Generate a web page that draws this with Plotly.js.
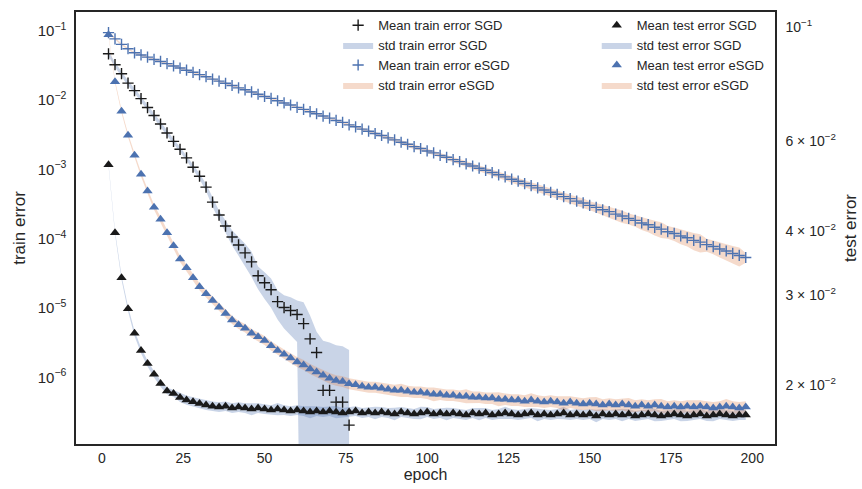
<!DOCTYPE html>
<html>
<head>
<meta charset="utf-8">
<script src="https://cdn.plot.ly/plotly-3.0.1.min.js"></script>
<style>html,body{margin:0;padding:0;background:#fff;}#chart{width:862px;height:489px;}</style>
</head>
<body>
<div id="chart"></div>
<script>
const epochs = [2,4,6,8,10,12,14,16,18,20,22,24,26,28,30,32,34,36,38,40,42,44,46,48,50,52,54,56,58,60,62,64,66,68,70,72,74,76,78,80,82,84,86,88,90,92,94,96,98,100,102,104,106,108,110,112,114,116,118,120,122,124,126,128,130,132,134,136,138,140,142,144,146,148,150,152,154,156,158,160,162,164,166,168,170,172,174,176,178,180,182,184,186,188,190,192,194,196,198];

const trainSgdMean = [0.0533,0.0371,0.0275,0.0201,0.0157,0.0120,0.00893,0.00686,0.00517,0.00384,0.00290,0.00223,0.00168,0.00123,0.000912,0.000634,0.000386,0.000251,0.000174,0.000121,0.0000929,0.0000713,0.0000529,0.0000333,0.0000264,0.0000210,0.0000141,0.0000116,0.0000105,0.0000092,0.0000068,0.0000041,0.0000026,0.00000074,0.00000074,0.00000050,0.00000050,0.000000233];
const trainSgdStd = [0.0043,0.0030,0.0022,0.0016,0.0013,0.0010,0.0007,0.00055,0.00041,0.00031,0.00023,0.00018,0.00013,0.0001,0.00009,0.000076,0.000058,0.000038,0.000035,0.00003,0.000028,0.000025,0.000021,0.000012,0.000011,0.0000095,0.0000063,0.0000058,0.0000058,0.0000055,0.000007,0.0000048,0.0000026,0.0000031,0.0000029,0.0000028,0.0000027,0.0000026];

const trainEsgdMean = [0.1079,0.0876,0.0730,0.0630,0.0551,0.0513,0.0477,0.0442,0.0413,0.0384,0.0356,0.0332,0.0309,0.0288,0.0267,0.0249,0.0230,0.0215,0.0200,0.0186,0.0172,0.0161,0.0150,0.0139,0.0129,0.0121,0.0112,0.0104,0.00972,0.00899,0.00840,0.00778,0.00727,0.00673,0.00628,0.00582,0.00545,0.00503,0.00471,0.00436,0.00407,0.00377,0.00353,0.00326,0.00305,0.00282,0.00264,0.00244,0.00229,0.00211,0.00198,0.00182,0.00171,0.00158,0.00148,0.00137,0.00128,0.00119,0.00111,0.00103,0.000955,0.000892,0.000826,0.000772,0.000714,0.000668,0.000618,0.000578,0.000534,0.000500,0.000462,0.000433,0.000399,0.000375,0.000346,0.000324,0.000299,0.000281,0.000259,0.000243,0.000224,0.000210,0.000193,0.000182,0.000167,0.000157,0.000144,0.000136,0.000125,0.000118,0.000108,0.000102,0.0000938,0.0000880,0.0000810,0.0000760,0.0000700,0.0000655,0.0000612];
const trainEsgdStd = [0.003,0.0025,0.002,0.0018,0.0016,0.0015,0.0014,0.0013,0.0012,0.0012,0.0011,0.0010,0.0009,0.0009,0.0008,0.0008,0.0007,0.0007,0.0006,0.0006,0.0005,0.0005,0.0005,0.0004,0.0004,0.0004,0.0004,0.0003,0.0003,0.0003,0.0003,0.0003,0.0003,0.0003,0.0002,0.0002,0.0002,0.0002,0.0002,0.0002,0.0002,0.0002,0.0002,0.0002,0.0002,0.0002,0.0002,0.0002,0.00015,0.00015,0.00015,0.00015,0.00014,0.00013,0.00013,0.00012,0.00012,0.00011,0.00011,0.0001,0.0001,0.0001,0.00009,0.00009,0.00008,0.00008,0.00008,0.00007,0.00007,0.00007,0.00006,0.00006,0.00006,0.00006,0.00005,0.00005,0.00005,0.00005,0.00005,0.00005,0.00004,0.00004,0.00004,0.00004,0.00004,0.00004,0.00003,0.00003,0.00003,0.00003,0.00003,0.00003,0.00002,0.00002,0.00002,0.00002,0.00002,0.00002,0.00001];

const testSgdMean = [0.0548,0.0404,0.0330,0.0287,0.0257,0.0238,0.02244,0.02138,0.02051,0.01984,0.01962,0.01927,0.01904,0.01889,0.01876,0.01862,
0.01853,0.01845,0.01853,0.01837,0.01845,0.01837,0.01829,0.01837,0.01829,0.01821,
0.01829,0.01821,0.01813,0.01821,0.01813,0.01805,0.01813,0.01805,0.01813,0.01805,
0.01797,0.01805,0.01813,0.01797,0.01805,0.01797,0.01805,0.01797,0.01789,0.01805,
0.01797,0.01789,0.01797,0.01805,0.01789,0.01797,0.01789,0.01797,0.01789,0.01781,
0.01797,0.01789,0.01797,0.01781,0.01789,0.01797,0.01789,0.01781,0.01789,0.01797,
0.01781,0.01789,0.01781,0.01789,0.01797,0.01781,0.01789,0.01781,0.01789,0.01773,
0.01789,0.01781,0.01789,0.01781,0.01789,0.01773,0.01781,0.01789,0.01781,0.01773,
0.01781,0.01789,0.01781,0.01773,0.01781,0.01789,0.01773,0.01781,0.01789,0.01781,
0.01773,0.01781,0.01781];
const testSgdStd = [0.0003,0.0003,0.0003,0.0003,0.0003,0.0003,0.0003,0.0003,0.0003,0.0003,0.0003,0.0004,0.0004,0.0004,0.0004,0.0004,0.0004,0.0004,0.0004,0.0004,0.0004,0.0004,0.0005,0.0004,0.0004,0.0004,0.0005,0.0004,0.0004,0.0004,0.0004,0.0005,0.0004,0.0004,0.0004,0.0005,0.0004,0.0004,0.0004,0.0004,0.0004,0.0005,0.0004,0.0004,0.0005,0.0004,0.0004,0.0004,0.0005,0.0004,0.0004,0.0004,0.0005,0.0004,0.0004,0.0004,0.0004,0.0005,0.0004,0.0004,0.0004,0.0005,0.0004,0.0004,0.0004,0.0004,0.0005,0.0004,0.0004,0.0004,0.0005,0.0004,0.0004,0.0004,0.0004,0.0005,0.0004,0.0004,0.0004,0.0005,0.0004,0.0004,0.0004,0.0004,0.0005,0.0004,0.0004,0.0004,0.0005,0.0004,0.0004,0.0004,0.0004,0.0005,0.0004,0.0004,0.0004,0.0004,0.0004];

const testEsgdMean = [0.0983,0.0796,0.0697,0.0626,0.0572,0.0525,0.0487,0.0453,0.0429,0.0404,0.0381,0.0359,0.0345,0.0330,0.0317,0.0307,0.0298,0.0289,0.0281,0.0273,0.0267,0.0263,0.0257,0.0253,0.0249,0.0243,0.0238,0.0234,0.0230,0.0226,0.0223,0.0219,0.0216,0.0213,0.0210,0.0208,0.0207,0.0205,0.0204,
0.02026,0.02017,0.02017,0.02008,0.01999,0.01990,0.01990,0.01981,0.01973,0.01973,
0.01964,0.01955,0.01955,0.01946,0.01946,0.01938,0.01938,0.01929,0.01929,0.01921,
0.01921,0.01912,0.01912,0.01904,0.01904,0.01895,0.01904,0.01895,0.01887,0.01895,
0.01887,0.01878,0.01887,0.01878,0.01870,0.01878,0.01870,0.01862,0.01870,0.01862,
0.01870,0.01862,0.01853,0.01862,0.01853,0.01862,0.01853,0.01845,0.01853,0.01845,
0.01853,0.01845,0.01853,0.01845,0.01837,0.01845,0.01853,0.01845,0.01837,0.01845];
const testEsgdStd = [0.0005,0.0005,0.0005,0.0005,0.0005,0.0005,0.0005,0.0005,0.0005,0.0005,0.0005,0.0005,0.0005,0.0005,0.0005,0.0005,0.0005,0.0005,0.0005,0.0005,0.0005,0.0005,0.0005,0.0005,0.0005,0.0005,0.0005,0.0005,0.0005,0.0005,0.0005,0.0005,0.0005,0.0005,0.0005,0.0005,0.0005,0.0005,0.0005,0.0005,0.0005,0.0005,0.0005,0.0005,0.0005,0.0006,0.0005,0.0005,0.0005,0.0005,0.0006,0.0005,0.0005,0.0005,0.0005,0.0006,0.0005,0.0005,0.0005,0.0005,0.0006,0.0005,0.0005,0.0005,0.0005,0.0006,0.0005,0.0005,0.0005,0.0005,0.0006,0.0005,0.0005,0.0005,0.0005,0.0006,0.0005,0.0005,0.0005,0.0005,0.0006,0.0005,0.0005,0.0005,0.0005,0.0006,0.0005,0.0005,0.0005,0.0005,0.0006,0.0005,0.0005,0.0005,0.0005,0.0006,0.0005,0.0005,0.0005];

const leftTickVals = [1e-6,1e-5,1e-4,1e-3,1e-2,1e-1];
const leftTickText = ['10<sup>\u22126</sup>','10<sup>\u22125</sup>','10<sup>\u22124</sup>','10<sup>\u22123</sup>','10<sup>\u22122</sup>','10<sup>\u22121</sup>'];
const rightTickVals = [0.02,0.03,0.04,0.06,0.1];
const rightTickText = ['2 \u00d7 10<sup>\u22122</sup>','3 \u00d7 10<sup>\u22122</sup>','4 \u00d7 10<sup>\u22122</sup>','6 \u00d7 10<sup>\u22122</sup>','10<sup>\u22121</sup>'];
const xTickVals = [0,25,50,75,100,125,150,175,200];

const BLACK = '#1a1a1a';
const BLUE = '#4c72b0';
const BAND_BLUE = 'rgba(76,114,176,0.3)';
const BAND_ORANGE = 'rgba(221,132,82,0.3)';

function band(x, mean, std, color, name, yaxis, legend, rank) {
  const up = mean.map((m, i) => m + std[i]);
  const lo = mean.map((m, i) => Math.max(m - std[i], 1e-12));
  return {
    x: x.concat(x.slice().reverse()),
    y: up.concat(lo.slice().reverse()),
    type: 'scatter', mode: 'lines', fill: 'toself', fillcolor: color,
    line: {width: 0, color: color}, hoverinfo: 'skip',
    name: name, yaxis: yaxis, legend: legend, legendrank: rank
  };
}
function pts(x, y, symbol, color, size, name, yaxis, legend, rank) {
  return {
    x: x, y: y, type: 'scatter', mode: 'markers', name: name, yaxis: yaxis, legend: legend, legendrank: rank,
    marker: {symbol: symbol, size: size, color: color, line: {color: color, width: symbol === 'cross-thin' ? 1.4 : 0}}
  };
}

const xSgd = epochs.slice(0, trainSgdMean.length);

const traces = [
  band(xSgd, trainSgdMean, trainSgdStd, BAND_BLUE, 'std train error SGD', 'y', 'legend', 2),
  band(epochs, trainEsgdMean, trainEsgdStd, BAND_ORANGE, 'std train error eSGD', 'y', 'legend', 4),
  pts(xSgd, trainSgdMean, 'cross-thin', BLACK, 8, 'Mean train error SGD', 'y', 'legend', 1),
  pts(epochs, trainEsgdMean, 'cross-thin', BLUE, 8, 'Mean train error eSGD', 'y', 'legend', 3),
  band(epochs, testSgdMean, testSgdStd, BAND_BLUE, 'std test error SGD', 'y2', 'legend2', 2),
  band(epochs, testEsgdMean, testEsgdStd, BAND_ORANGE, 'std test error eSGD', 'y2', 'legend2', 4),
  pts(epochs, testSgdMean, 'triangle-up', BLACK, 9, 'Mean test error SGD', 'y2', 'legend2', 1),
  pts(epochs, testEsgdMean, 'triangle-up', BLUE, 9, 'Mean test error eSGD', 'y2', 'legend2', 3)
];

const FONT = 'Liberation Sans, Arial, sans-serif';
const TXT = '#262626';
const legendBase = {
  orientation: 'v', xanchor: 'left', yanchor: 'top', y: 1.004, traceorder: 'normal',
  font: {family: FONT, size: 13, color: TXT}, bgcolor: 'rgba(0,0,0,0)', borderwidth: 0, tracegroupgap: 0
};
const layout = {
  width: 862, height: 489,
  margin: {l: 76, r: 87, t: 10, b: 45, pad: 0},
  paper_bgcolor: '#ffffff', plot_bgcolor: '#ffffff',
  font: {family: FONT, color: TXT, size: 13},
  showlegend: true,
  legend: Object.assign({}, legendBase, {x: 0.375}),
  legend2: Object.assign({}, legendBase, {x: 0.745}),
  xaxis: {
    range: [-8, 207], tickvals: xTickVals, ticks: '', showgrid: false, zeroline: false,
    showline: true, mirror: true, linecolor: TXT, linewidth: 1.6,
    tickfont: {size: 14, color: TXT}, ticklabelstandoff: 1,
    title: {text: 'epoch', font: {size: 16, color: TXT}, standoff: 3}
  },
  yaxis: {
    type: 'log', range: [-6.905, -0.67], tickvals: leftTickVals, ticktext: leftTickText,
    ticks: '', showgrid: false, zeroline: false,
    showline: true, mirror: true, linecolor: TXT, linewidth: 1.6,
    tickfont: {size: 15, color: TXT}, ticklabelstandoff: 5, ticklabelshift: -4,
    title: {text: 'train error', font: {size: 17, color: TXT}, standoff: 8}
  },
  yaxis2: {
    type: 'log', overlaying: 'y', side: 'right', range: [-1.806, -0.963],
    tickvals: rightTickVals, ticktext: rightTickText,
    ticks: '', showgrid: false, zeroline: false,
    showline: true, linecolor: TXT, linewidth: 1.6,
    tickfont: {size: 14, color: TXT}, ticklabelstandoff: 6, ticklabelshift: -4,
    title: {text: 'test error', font: {size: 17, color: TXT}, standoff: 9}
  }
};

Plotly.newPlot('chart', traces, layout, {displayModeBar: false, staticPlot: true});
</script>
</body>
</html>
